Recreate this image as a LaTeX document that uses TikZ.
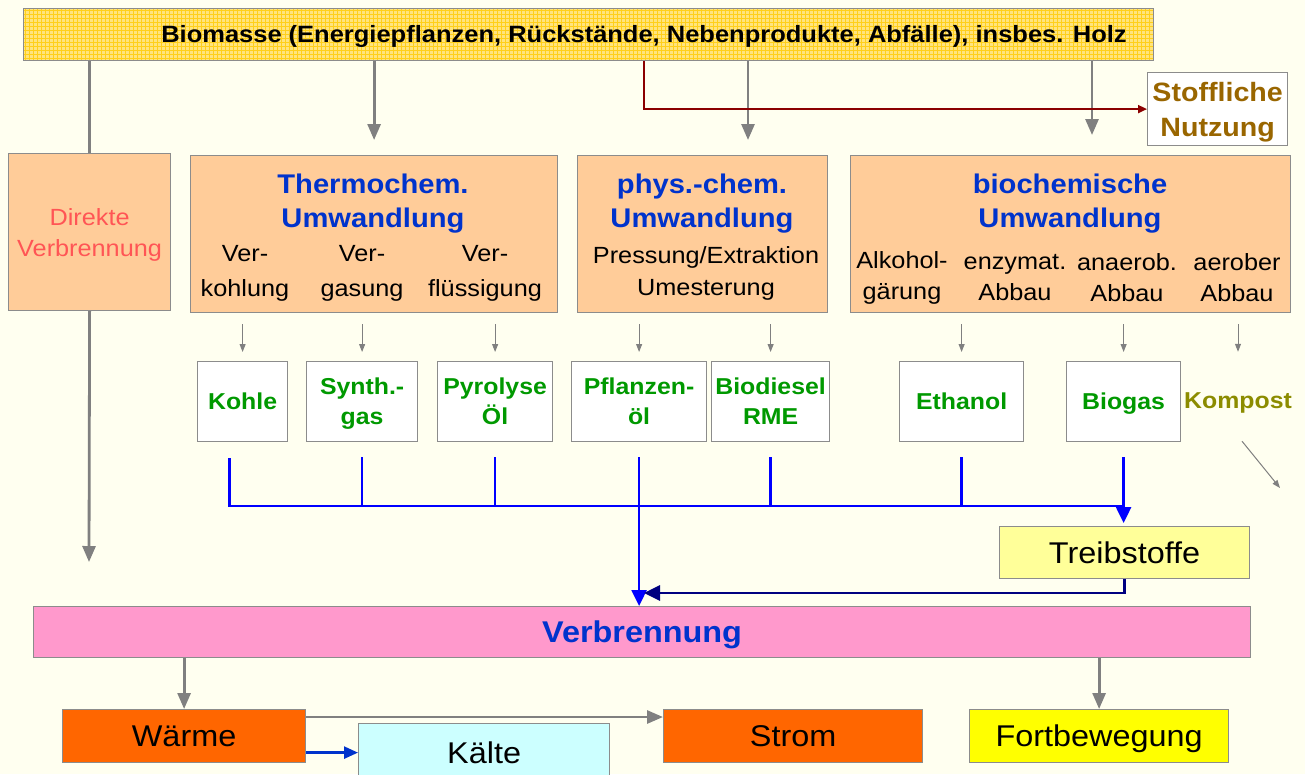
\documentclass[tikz,border=0pt]{standalone}
\usepackage{fontspec}
\setmainfont{Liberation Sans}[FakeStretch=1.08]
\usetikzlibrary{arrows.meta}
\definecolor{bg}{HTML}{FFFFF0}
\definecolor{barfill}{HTML}{FFE47E}
\definecolor{gridc}{HTML}{FFCF1A}
\definecolor{bordergray}{HTML}{8C8C8C}
\definecolor{arrowgray}{HTML}{808080}
\definecolor{peach}{HTML}{FFCC99}
\definecolor{titleblue}{HTML}{0033CC}
\definecolor{prodgreen}{HTML}{009900}
\definecolor{olive}{HTML}{8C8C00}
\definecolor{brownish}{HTML}{996600}
\definecolor{redtext}{HTML}{FF5555}
\definecolor{darkred}{HTML}{8B0000}
\definecolor{pureblue}{HTML}{0000FF}
\definecolor{navyc}{HTML}{000080}
\definecolor{pinkc}{HTML}{FF99CC}
\definecolor{orangec}{HTML}{FF6600}
\definecolor{yellowc}{HTML}{FFFF00}
\definecolor{lightyellow}{HTML}{FFFF99}
\definecolor{lightcyan}{HTML}{CCFFFF}
\newcommand\myfs[2]{\fontsize{#1}{#2}\selectfont}
\begin{document}
\begin{tikzpicture}[x=1pt,y=-1pt,
  box/.style={draw=bordergray, line width=1.2pt, inner sep=0pt, anchor=north west, align=center, text depth=0pt},
  lbl/.style={align=center, inner sep=0pt},
  gline/.style={draw=arrowgray, line width=2.8pt},
  garrow/.style={draw=arrowgray, line width=2.8pt, -{Triangle[width=13pt,length=16pt]}},
  sarrow/.style={draw=arrowgray, line width=1pt, -{Triangle[width=6pt,length=8pt]}},
  redarrow/.style={draw=darkred, line width=2pt, -{Triangle[width=8pt,length=9pt]}},
  bline/.style={draw=pureblue, line width=2.5pt},
  barrow/.style={draw=pureblue, line width=2.5pt, -{Triangle[width=15pt,length=16pt]}},
  navyarrow/.style={draw=navyc, line width=2.8pt, -{Triangle[width=15pt,length=16pt]}},
  blarrow/.style={draw=titleblue, line width=2.5pt, -{Triangle[width=12pt,length=14pt]}},
  prod/.style={box, fill=white, minimum height=80pt, font=\myfs{23}{30}\bfseries, text=prodgreen},
  title/.style={lbl, font=\myfs{27}{34}\bfseries, text=titleblue},
  sub/.style={lbl, font=\myfs{23.4}{35}},
  outbox/.style={box, minimum height=53pt, font=\myfs{30}{34}}
]
\useasboundingbox (0,0) rectangle (1305,774);
\clip (0,0) rectangle (1305,774);
\fill[bg] (0,0) rectangle (1305,774);

% top bar with grid texture
\fill[barfill] (23,8) rectangle (1153,60);
\begin{scope}
  \clip (23,8) rectangle (1153,60);
  \foreach \x in {25,29,...,1153} \draw[gridc, line width=0.4pt] (\x,8) -- (\x,60);
  \foreach \y in {10,14,...,60} \draw[gridc, line width=0.4pt] (23,\y) -- (1153,\y);
\end{scope}
\node[box, minimum width=1130pt, minimum height=52pt] (top) at (23,8) {};
\node[lbl, font=\myfs{23.6}{28}\bfseries] (toptext) at (644,36) {Biomasse (Energiepflanzen, Rückstände, Nebenprodukte, Abfälle), insbes. Holz};

% Stoffliche Nutzung
\node[box, fill=white, minimum width=140pt, minimum height=73pt, font=\myfs{26.5}{35}\bfseries, text=brownish] (stoff) at (1147,72) {Stoffliche\\Nutzung};

% conversion boxes
\node[box, fill=peach, minimum width=162pt, minimum height=157pt, font=\myfs{23.4}{31}, text=redtext] (direkt) at (8,153) {Direkte\\Verbrennung};
\node[box, fill=peach, minimum width=367pt, minimum height=157pt] (thermo) at (190,155) {};
\node[box, fill=peach, minimum width=250pt, minimum height=157pt] (phys) at (577,155) {};
\node[box, fill=peach, minimum width=440pt, minimum height=157pt] (bio) at (850,155) {};

\node[title] (thermot) at (373,204) {Thermochem.\\Umwandlung};
\node[title] (physt) at (702,204) {phys.-chem.\\Umwandlung};
\node[title] (biot) at (1070,204) {biochemische\\Umwandlung};

\node[sub] (s1) at (245,273) {Ver-\\kohlung};
\node[sub] (s2) at (362,273) {Ver-\\gasung};
\node[sub] (s3) at (485,273) {Ver-\\flüssigung};
\node[sub, font=\myfs{23.4}{32}] (s4) at (706,273) {Pressung/Extraktion\\Umesterung};
\node[sub, font=\myfs{23.4}{31}] (s5) at (902,278) {Alkohol-\\gärung};
\node[sub, font=\myfs{23.4}{31}] (s6) at (1015,278) {enzymat.\\Abbau};
\node[sub, font=\myfs{23.4}{31}] (s7) at (1127,278) {anaerob.\\Abbau};
\node[sub, font=\myfs{23.4}{31}] (s8) at (1237,278) {aerober\\Abbau};

% products
\node[prod, minimum width=90pt] (kohle) at (197,361) {Kohle};
\node[prod, minimum width=111pt] (synth) at (306,361) {Synth.-\\gas};
\node[prod, minimum width=115pt] (pyro) at (437,361) {Pyrolyse\\Öl};
\node[prod, minimum width=135pt] (pfl) at (571,361) {Pflanzen-\\öl};
\node[prod, minimum width=118pt] (biod) at (711,361) {Biodiesel\\RME};
\node[prod, minimum width=124pt] (eth) at (899,361) {Ethanol};
\node[prod, minimum width=114pt] (biog) at (1066,361) {Biogas};
\node[lbl, minimum height=80pt, font=\myfs{23}{30}\bfseries, text=olive, text depth=0pt] (kompost) at (1238,401) {Kompost};

% lower boxes
\node[box, fill=lightyellow, minimum width=250pt, minimum height=52pt, font=\myfs{30}{34}] (treib) at (999,526) {Treibstoffe};
\node[box, fill=pinkc, minimum width=1217pt, minimum height=51pt, font=\myfs{30}{34}\bfseries, text=titleblue] (verb) at (33,606) {Verbrennung};
\node[outbox, fill=orangec, minimum width=243pt] (waerme) at (62,709) {Wärme};
\node[outbox, fill=orangec, minimum width=259pt] (strom) at (663,709) {Strom};
\node[outbox, fill=yellowc, minimum width=259pt] (fort) at (969,709) {Fortbewegung};
\node[box, fill=lightcyan, minimum width=251pt, minimum height=58pt, font=\myfs{30}{34}] (kaelte) at (358,723) {Kälte};

% helper coordinates
\coordinate (dend) at (89,562);
\coordinate (px) at (748,0);
\coordinate (bx) at (1092,0);
\coordinate (rx) at (644,0);
\coordinate (bus) at (640,506);
\coordinate (tj) at (644,593);
\coordinate (kend) at (1280,488);

% connectors from the top bar
\draw[gline] (top.south -| direkt.north) -- (direkt.north);
\draw[garrow] (direkt.south) -- (dend);
\draw[garrow, shorten >=15pt] (top.south -| thermo.north) -- (thermo.north);
\draw[garrow, shorten >=15pt] (top.south -| px) -- (phys.north -| px);
\draw[garrow, shorten >=20pt] (top.south -| bx) -- (bio.north -| bx);
\draw[redarrow] (top.south -| rx) |- (stoff.west);

% small arrows to products
\foreach \p/\b in {kohle/thermo, synth/thermo, pyro/thermo, pfl/phys, biod/phys, eth/bio, biog/bio, kompost/bio}
  \draw[sarrow, shorten <=11pt, shorten >=9pt] (\b.south -| \p.north) -- (\p.north);
\draw[sarrow] ([xshift=4pt]kompost.south) -- (kend);

% blue collecting lines
\draw[bline, shorten <=16pt] ([xshift=-13pt]kohle.south) -- ([xshift=-13pt]kohle.south |- bus) -- (biog.south |- bus);
\foreach \p in {synth, pyro, biod, eth}
  \draw[bline, shorten <=15pt] (\p.south) -- (\p.south |- bus);
\draw[barrow, shorten <=15pt] (pfl.south) -- (pfl.south |- verb.north);
\draw[barrow, shorten <=15pt, shorten >=3pt] (biog.south) -- (biog.south |- treib.north);
\draw[navyarrow] (treib.south) |- (tj);

% bottom connectors
\draw[garrow] (verb.south -| waerme.north) -- (waerme.north);
\draw[garrow] (verb.south -| fort.north) -- (fort.north);
\draw[garrow] ([yshift=-8pt]waerme.north east) -- ([yshift=-8pt]waerme.north east -| strom.west);
\draw[blarrow] (kaelte.west -| waerme.east) -- (kaelte.west);
\end{tikzpicture}
\end{document}
